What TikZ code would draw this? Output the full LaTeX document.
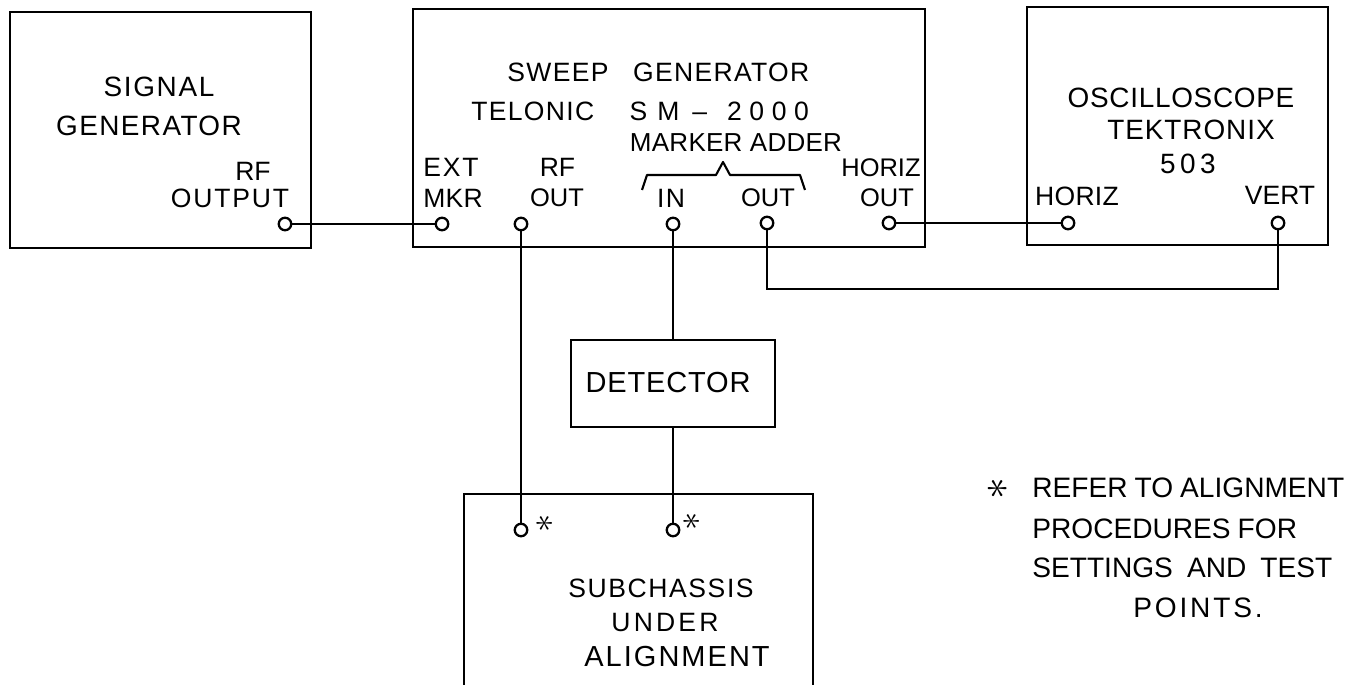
\documentclass[tikz,border=0pt]{standalone}
\usepackage{fontspec}
\setmainfont{Liberation Sans}
\begin{document}
\begin{tikzpicture}[x=0.02cm,y=-0.02cm,
  box/.style={draw, rectangle, line width=1.6pt, inner sep=0pt},
  term/.style={circle, draw, fill=white, line width=1.3pt, inner sep=0pt, minimum size=0.25cm},
  wire/.style={line width=1.4pt},
  txt/.style 2 args={inner sep=0pt, font=\fontsize{#1}{#1}\selectfont\addfontfeature{LetterSpace=#2}},
  ast/.style={inner sep=0pt, rotate=90, font=\fontsize{#1}{#1}\selectfont}]
\useasboundingbox (0,0) rectangle (1372,685);
\clip (0,0) rectangle (1372,685);
% boxes
\node[box, minimum width=6.02cm, minimum height=4.72cm] (sig) at (160.5,130) {};
\node[box, minimum width=10.24cm, minimum height=4.76cm] (swp) at (669,128) {};
\node[box, minimum width=6.02cm, minimum height=4.76cm] (osc) at (1177.5,126) {};
\node[box, minimum width=4.08cm, minimum height=1.74cm] (det) at (673,383.5) {};
\node[box, minimum width=6.98cm, minimum height=4.52cm] (sub) at (638.5,607) {};
% signal generator texts
\node[txt={15.9}{6}] (sg1) at (159,87) {SIGNAL};
\node[txt={15.9}{5}] (sg2) at (149,126) {GENERATOR};
\node[txt={15.1}{0}] (sg3) at (253,171) {RF};
\node[txt={15.1}{7}] (sg4) at (230,198) {OUTPUT};
% sweep generator texts
\node[txt={15.1}{5}, anchor=west] (sw1) at (507,72.5) {SWEEP\hspace{14pt}GENERATOR};
\node[txt={15.1}{0}, anchor=west] (sw2) at (471,111) {\makebox[90.1pt][l]{\addfontfeature{LetterSpace=5}TELONIC}\makebox[35.7pt][l]{\makebox[28.3pt][s]{S\hfill M}}\makebox[19.8pt][l]{–}\makebox[46.5pt][s]{2\hfill 0\hfill 0\hfill 0}};
\node[txt={14.8}{1}] (sw3) at (736,143) {MARKER ADDER};
\node[txt={15.1}{7}, anchor=west] (sw4) at (423,167.5) {EXT};
\node[txt={15.1}{1}, anchor=west] (sw5) at (423,198) {MKR};
\node[txt={15.1}{0}] (sw6) at (557.5,167.5) {RF};
\node[txt={14.5}{0}] (sw7) at (557,198) {OUT};
\node[txt={15.1}{5}] (sw8) at (671,198) {IN};
\node[txt={14.5}{0}] (sw9) at (768,198) {OUT};
\node[txt={14.5}{0}] (sw10) at (881,167.5) {HORIZ};
\node[txt={14.5}{0}] (sw11) at (887,198) {OUT};
% oscilloscope texts
\node[txt={15.9}{2.5}] (os1) at (1181,98) {OSCILLOSCOPE};
\node[txt={15.9}{3.3}] (os2) at (1191,130) {TEKTRONIX};
\node[txt={15.9}{16}] (os3) at (1188,164) {503};
\node[txt={15.1}{1}] (os4) at (1077,196) {HORIZ};
\node[txt={15.1}{0}] (os5) at (1280,195) {VERT};
% detector, subchassis
\node[txt={16.5}{3}] (dt1) at (668,383) {DETECTOR};
\node[txt={15.1}{6}] (sc1) at (661,588.8) {SUBCHASSIS};
\node[txt={15.1}{12}] (sc2) at (665,623) {UNDER};
\node[txt={16.5}{7}] (sc3) at (677,657) {ALIGNMENT};
% note
\node[ast=32] (na) at (998,489) {$\ast$};
\node[txt={16}{0}, anchor=west] (n1) at (1032,488) {REFER\hspace{4pt}TO\hspace{4pt}ALIGNMENT};
\node[txt={16}{0}, anchor=west] (n2) at (1032,529) {PROCEDURES\hspace{4pt}FOR};
\node[txt={16}{0}, anchor=west] (n3) at (1032,568) {SETTINGS\hspace{8pt}AND\hspace{8pt}TEST};
\node[txt={16}{10}] (n4) at (1198,607.5) {POINTS.};
% brace
\draw[line width=1.2pt, line join=round] (642,190) -- (647,175) -- (716,175) -- (723,162) -- (730,175) -- (800,175) -- (805,190);
% terminals
\node[term] (sgo) at (285,224) {};
\node[term] (ext) at (442,224) {};
\node[term] (rfo) at (521,224) {};
\node[term] (min) at (673,224) {};
\node[term] (mout) at (767,223) {};
\node[term] (hout) at (889,223) {};
\node[term] (oh) at (1068,223) {};
\node[term] (ov) at (1278,223) {};
\node[term] (s1) at (521,530) {};
\node[term] (s2) at (673,530) {};
\node[ast=22] (a1) at (545,523) {$\ast$};
\node[ast=22] (a2) at (692,521) {$\ast$};
% wires
\coordinate (bend) at (1278,289);
\draw[wire] (sgo) -- (ext);
\draw[wire] (hout) -- (oh);
\draw[wire] (mout) |- (bend) -- (ov);
\draw[wire] (rfo) -- (s1);
\draw[wire] (min) -- (det);
\draw[wire] (det) -- (s2);
\end{tikzpicture}
\end{document}
